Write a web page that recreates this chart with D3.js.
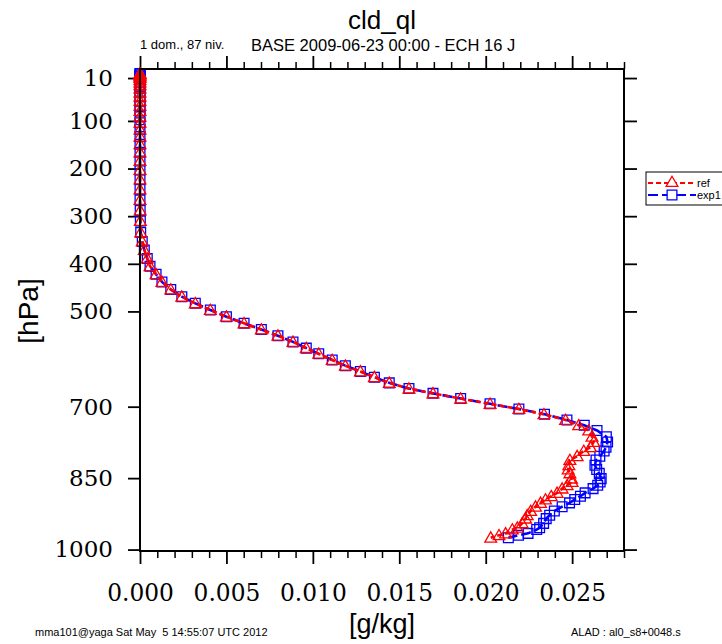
<!DOCTYPE html>
<html>
<head>
<meta charset="utf-8">
<script src="https://cdn.jsdelivr.net/npm/d3@7"></script>
<style>
  html, body { margin: 0; padding: 0; background: #fff; }
  svg { display: block; }
  text { white-space: pre; }
</style>
</head>
<body>
<svg id="chart" width="722" height="644"></svg>
<script>
// ---------------- data ----------------
const pressure = [
  0.5, 1, 3, 5, 7, 10, 14, 19, 25, 32, 40, 49, 58, 68, 79, 91, 104, 118, 133, 149,
  166, 184, 203, 223, 244, 266, 288, 310,
  334, 353, 371, 389, 405, 422, 438, 454, 469, 483, 497, 511, 525, 538, 551, 564,
  577, 589, 602, 614, 626, 638, 650, 662, 672, 683, 694, 705, 716, 728,
  739, 750, 763, 774, 785, 793, 804, 812, 823, 832, 840, 851, 858, 865, 872, 881,
  888, 895, 902, 910, 919, 928, 935, 945, 954, 958, 966, 970, 975
];
const refValues = [
  0, 0, 0, 0, 0, 0, 0, 0, 0, 0, 0, 0, 0, 0, 0, 0, 0, 0, 0, 0,
  0, 0, 0, 0, 0, 0, 0.00001, 0.00002,
  0.00004, 0.00013, 0.00025, 0.00042, 0.00058, 0.00093, 0.00127, 0.00178, 0.00242, 0.0032,
  0.00407, 0.005, 0.00602, 0.00702, 0.00798, 0.00885, 0.00962, 0.01034, 0.01112, 0.01188,
  0.01275, 0.01356, 0.01442, 0.01556, 0.01695, 0.01855, 0.02025, 0.02192, 0.02337, 0.02462,
  0.02538, 0.02596, 0.02615, 0.02625, 0.02606, 0.02567, 0.02529, 0.02487, 0.02481, 0.02477,
  0.02487, 0.02496, 0.025, 0.02471, 0.02442, 0.02413, 0.02379, 0.02346, 0.02317, 0.02288,
  0.0226, 0.0224, 0.02231, 0.02211, 0.02183, 0.02154, 0.02115, 0.02077, 0.02029
];
const exp1Values = [
  0, 0, 0, 0, 0, 0, 0, 0, 0, 0, 0, 0, 0, 0, 0, 0, 0, 0, 0, 0,
  0, 0, 0, 0, 0, 0, 0.00001, 0.00002,
  0.00004, 0.00013, 0.00025, 0.00042, 0.00058, 0.00093, 0.00127, 0.00178, 0.00242, 0.0032,
  0.00407, 0.005, 0.00602, 0.00702, 0.00798, 0.00885, 0.00962, 0.01034, 0.01112, 0.01188,
  0.01275, 0.01356, 0.01442, 0.01556, 0.01695, 0.01855, 0.02025, 0.02192, 0.0234, 0.0247,
  0.0257, 0.02644, 0.02698, 0.02705, 0.02696, 0.02685, 0.0266, 0.02638, 0.02632, 0.02642,
  0.02657, 0.02668, 0.02662, 0.02648, 0.02621, 0.02575, 0.02548, 0.02515, 0.02485, 0.02442,
  0.02397, 0.0237, 0.0235, 0.02335, 0.02312, 0.02295, 0.02245, 0.0219, 0.02131
];
const xMajorTicks = [0, 0.005, 0.010, 0.015, 0.020, 0.025];
const xMinorTicks = [0.001,0.002,0.003,0.004,0.006,0.007,0.008,0.009,0.011,0.012,0.013,0.014,
                     0.016,0.017,0.018,0.019,0.021,0.022,0.023,0.024,0.026,0.027,0.028];
const yTicks = [10, 100, 200, 300, 400, 500, 700, 850, 1000];
const seriesNames = ["ref", "exp1"];

// ---------------- layout ----------------
const svg = d3.select("#chart");
const L = 140, R = 624, T = 69, B = 551;
const x = d3.scaleLinear().domain([0, 0.028]).range([L, R]);
const y = d3.scaleLinear().domain([-9, 1003]).range([T, B]);
const tickFont = "'DejaVu Serif', serif";
const sans = "'Liberation Sans', Arial, sans-serif";

function styleAxis(g, sw) {
  g.select(".domain").remove();
  g.selectAll(".tick line").attr("stroke", "#000").attr("stroke-width", sw);
}

// bottom axis
svg.append("g").attr("transform", `translate(0,${B})`)
  .call(d3.axisBottom(x).tickValues(xMinorTicks).tickSize(7).tickFormat(""))
  .call(g => styleAxis(g, 1.5));
svg.append("g").attr("transform", `translate(0,${B})`)
  .call(d3.axisBottom(x).tickValues(xMajorTicks).tickSize(13).tickPadding(20).tickFormat(d3.format(".3f")))
  .call(g => styleAxis(g, 1.8))
  .call(g => g.selectAll("text").attr("font-family", tickFont).attr("font-size", 23.3)
    .attr("fill", "#000").attr("dy", "0.71em"));
// top axis
svg.append("g").attr("transform", `translate(0,${T})`)
  .call(d3.axisTop(x).tickValues(xMinorTicks).tickSize(7).tickFormat(""))
  .call(g => styleAxis(g, 1.5));
svg.append("g").attr("transform", `translate(0,${T})`)
  .call(d3.axisTop(x).tickValues(xMajorTicks).tickSize(13).tickFormat(""))
  .call(g => styleAxis(g, 1.8));
// left axis
svg.append("g").attr("transform", `translate(${L},0)`)
  .call(d3.axisLeft(y).tickValues(yTicks).tickSize(12).tickPadding(15).tickFormat(d3.format("d")))
  .call(g => styleAxis(g, 1.8))
  .call(g => g.selectAll("text").attr("font-family", tickFont).attr("font-size", 23)
    .attr("fill", "#000"));
// right axis
svg.append("g").attr("transform", `translate(${R},0)`)
  .call(d3.axisRight(y).tickValues(yTicks).tickSize(13).tickFormat(""))
  .call(g => styleAxis(g, 1.8));

// ---------------- series ----------------
const series = [
  { name: seriesNames[1], values: exp1Values, color: "#0000ff", dash: "10,4", marker: "square" },
  { name: seriesNames[0], values: refValues, color: "#ff0000", dash: "5,3", marker: "triangle" }
];
const sqr = d3.symbol().type(d3.symbolSquare).size(95);
const tri = d3.symbol().type(d3.symbolTriangle).size(60);

const plot = svg.append("g");
series.forEach(s => {
  const pts = pressure.map((p, i) => [s.values[i], p]);
  plot.append("path")
    .attr("d", d3.line().x(d => x(d[0])).y(d => y(d[1]))(pts))
    .attr("fill", "none").attr("stroke", s.color).attr("stroke-width", 2.6)
    .attr("stroke-dasharray", s.dash);
  plot.selectAll(null).data(pts).enter().append("path")
    .attr("d", s.marker === "square" ? sqr() : tri())
    .attr("transform", d => `translate(${x(d[0])},${y(d[1]) + (s.marker === "triangle" ? 1 : 0)})`)
    .attr("fill", "none").attr("stroke", s.color).attr("stroke-width", 1.3);
});

// frame
svg.append("rect").attr("x", L).attr("y", T).attr("width", R - L).attr("height", B - T)
  .attr("fill", "none").attr("stroke", "#000").attr("stroke-width", 2);

// ---------------- texts ----------------
svg.append("text").attr("x", 382).attr("y", 29).attr("text-anchor", "middle")
  .attr("font-family", sans).attr("font-size", 26).text("cld_ql");
svg.append("text").attr("x", 140).attr("y", 49)
  .attr("font-family", sans).attr("font-size", 13).text("1 dom., 87 niv.");
svg.append("text").attr("x", 251).attr("y", 51)
  .attr("font-family", sans).attr("font-size", 16.5).text("BASE 2009-06-23 00:00 - ECH 16 J");
svg.append("text").attr("transform", "translate(38,311) rotate(-90)").attr("text-anchor", "middle")
  .attr("font-family", sans).attr("font-size", 28).text("[hPa]");
svg.append("text").attr("x", 382).attr("y", 633).attr("text-anchor", "middle")
  .attr("font-family", sans).attr("font-size", 27).text("[g/kg]");
svg.append("text").attr("x", 35).attr("y", 636)
  .attr("font-family", sans).attr("font-size", 11).text("mma101@yaga Sat May  5 14:55:07 UTC 2012");
svg.append("text").attr("x", 571).attr("y", 636)
  .attr("font-family", sans).attr("font-size", 11).text("ALAD : al0_s8+0048.s");

// ---------------- legend ----------------
const leg = svg.append("g");
leg.append("rect").attr("x", 646).attr("y", 172).attr("width", 90).attr("height", 33)
  .attr("fill", "#fff").attr("stroke", "#000").attr("stroke-width", 1);
const legItems = [series[1], series[0]];
legItems.forEach((s, i) => {
  const ly = 183 + i * 12;
  leg.append("line").attr("x1", 648).attr("x2", 696).attr("y1", ly).attr("y2", ly)
    .attr("stroke", s.color).attr("stroke-width", 2).attr("stroke-dasharray", s.dash);
  leg.append("path").attr("d", s.marker === "square" ? sqr() : tri())
    .attr("transform", `translate(672,${ly})`)
    .attr("fill", "#fff").attr("stroke", s.color).attr("stroke-width", 1.3);
  leg.append("text").attr("x", 697).attr("y", ly + 4).attr("font-family", sans)
    .attr("font-size", 11).text(s.name);
});
</script>
</body>
</html>
